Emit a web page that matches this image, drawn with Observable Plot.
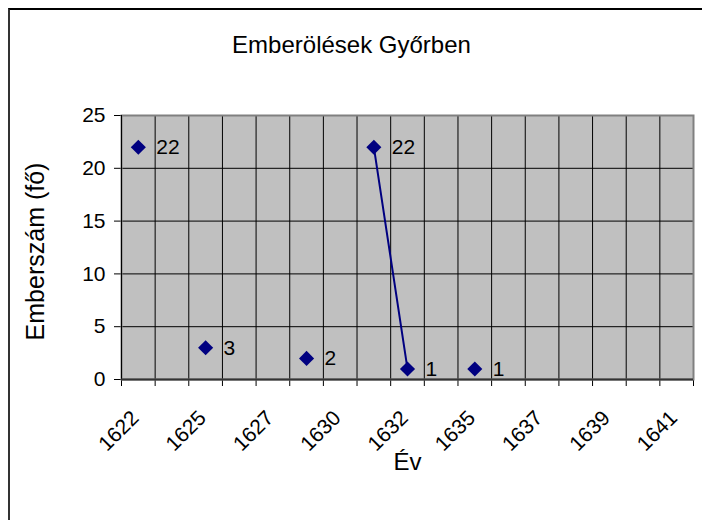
<!DOCTYPE html>
<html>
<head>
<meta charset="utf-8">
<script src="https://cdn.jsdelivr.net/npm/d3@7"></script>
<script src="https://cdn.jsdelivr.net/npm/@observablehq/plot@0.6"></script>
<style>
  html, body { margin: 0; padding: 0; background: #fff; }
  #wrap { position: relative; width: 702px; height: 520px; overflow: hidden; }
  #border { position: absolute; left: 8px; top: 8px; width: 720px; height: 540px;
            border-top: 2px solid #000; border-left: 2px solid #333; box-sizing: border-box; pointer-events: none; }
  svg { display: block; }
</style>
</head>
<body>
<div id="wrap"><div id="border"></div></div>
<script>
// Categories (years) on the x axis
const categories = ["1622","1624","1625","1626","1627","1629","1630","1631","1632",
                    "1634","1635","1636","1637","1638","1639","1640","1641"];
// Number of people per category (null = no data)
const values = [22, null, 3, null, null, 2, null, 22, 1, null, 1, null, null, null, null, null, null];
// Tick labels shown on the x axis
const xTickLabels = ["1622","1625","1627","1630","1632","1635","1637","1639","1641"];
const yTicks = [0, 5, 10, 15, 20, 25];
const title = "Emberölések Győrben";
const yTitle = "Emberszám (fő)";
const xTitle = "Év";

const data = categories.map((c, i) => ({i, year: c, value: values[i]}));
const points = data.filter(d => d.value != null);
const boundaries = d3.range(categories.length + 1).map(k => k - 0.5);
const labelIdx = xTickLabels.map(l => categories.indexOf(l));

const FONT = "'Liberation Sans', Arial, sans-serif";

const chart = Plot.plot({
  width: 702,
  height: 520,
  marginLeft: 121,
  marginRight: 9,
  marginTop: 115,
  marginBottom: 141,
  style: {fontFamily: FONT, fontSize: "21px", color: "#000", background: "transparent", overflow: "visible"},
  x: {type: "linear", domain: [-0.5, categories.length - 0.5], ticks: boundaries, tickFormat: () => "", tickSize: 7, label: null},
  y: {domain: [0, 25], ticks: yTicks, tickSize: 7, tickPadding: 9, label: null},
  marks: [
    Plot.frame({fill: "#c0c0c0", stroke: null}),
    Plot.ruleX(boundaries, {stroke: "#000", strokeWidth: 1}),
    Plot.ruleY(yTicks.filter(t => t > 0 && t < 25), {stroke: "#000", strokeWidth: 1}),
    Plot.frame({stroke: "#808080", strokeWidth: 2}),
    Plot.ruleX([-0.5], {stroke: "#000", strokeWidth: 1}),
    Plot.ruleY([0], {stroke: "#333", strokeWidth: 2}),
    Plot.line(data, {x: "i", y: "value", stroke: "#000080", strokeWidth: 2}),
    Plot.dot(points, {x: "i", y: "value", symbol: "diamond2", r: 6.8, fill: "#000080", stroke: null}),
    Plot.text(points, {x: "i", y: "value", text: d => String(d.value), dx: 18, textAnchor: "start",
      lineAnchor: "middle", fill: "#000", fontSize: 21, ariaLabel: "data-labels"}),
    Plot.text(labelIdx, {x: d => d, frameAnchor: "bottom", text: d => categories[d], rotate: -45,
      textAnchor: "end", lineAnchor: "middle", dy: 35, dx: -3, fontSize: 21}),
    Plot.text([yTitle], {frameAnchor: "left", dx: -86, dy: 4, rotate: -90, fontSize: 25, textAnchor: "middle", lineAnchor: "middle"}),
    Plot.text([xTitle], {frameAnchor: "bottom", dx: 0, dy: 83, fontSize: 24, textAnchor: "middle", lineAnchor: "middle"}),
    Plot.text([title], {frameAnchor: "top", dx: -56, dy: -70, fontSize: 24, textAnchor: "middle", lineAnchor: "middle"})
  ]
});

document.getElementById("wrap").insertBefore(chart, document.getElementById("border"));

// White boxes behind data labels
const g = chart.querySelector('g[aria-label="data-labels"]');
if (g) {
  g.querySelectorAll("text").forEach(t => {
    const b = t.getBBox();
    const r = document.createElementNS("http://www.w3.org/2000/svg", "rect");
    const cy = b.y + b.height / 2;
    r.setAttribute("x", b.x - 1);
    r.setAttribute("y", cy - 14);
    r.setAttribute("width", b.width + 2);
    r.setAttribute("height", 28);
    r.setAttribute("fill", "#fff");
    if (t.getAttribute("transform")) r.setAttribute("transform", t.getAttribute("transform"));
    g.insertBefore(r, t);
  });
}
</script>
</body>
</html>
